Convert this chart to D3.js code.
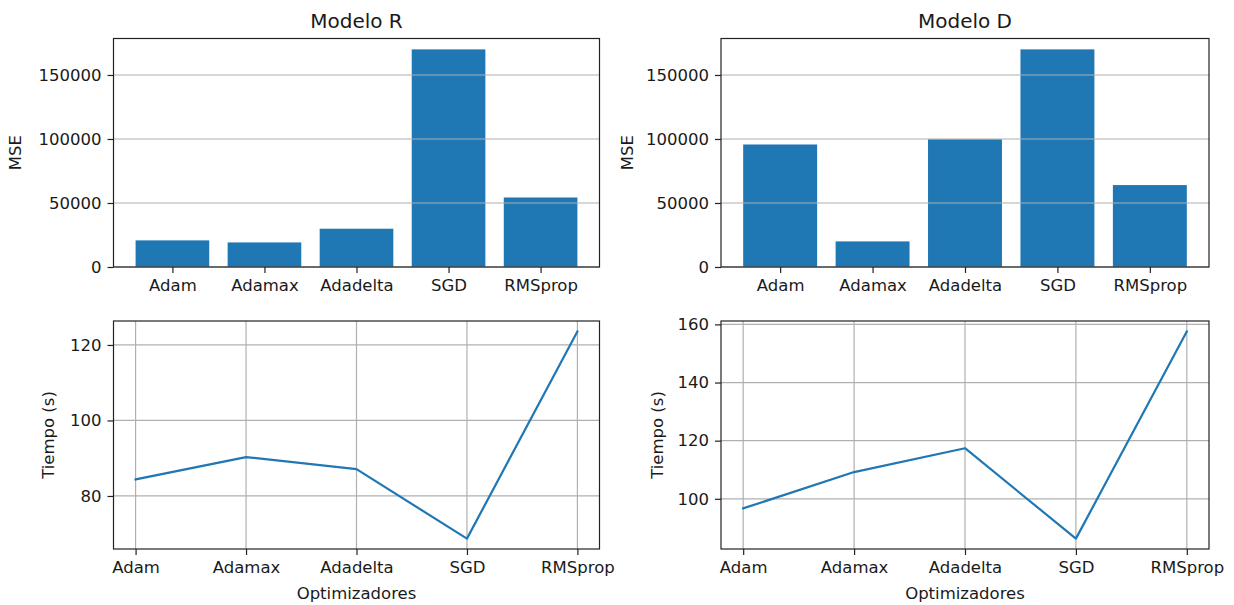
<!DOCTYPE html>
<html>
<head>
<meta charset="utf-8">
<script src="https://cdn.jsdelivr.net/npm/d3@7"></script>
<style>
  html, body { margin: 0; padding: 0; background: #ffffff; }
  svg text { font-family: "DejaVu Sans", sans-serif; fill: #1a1a1a; }
</style>
</head>
<body>
<svg id="chart" width="1234" height="605"></svg>
<script>
// Optimizer names shared by every panel
const optimizers = ["Adam", "Adamax", "Adadelta", "SGD", "RMSprop"];

// Mean squared error per optimizer
const mseModelR = [20800, 19200, 29900, 170000, 54300];
const mseModelD = [95700, 20000, 99800, 170000, 64000];

// Training time (seconds) per optimizer
const timeModelR = [84.4, 90.3, 87.1, 68.7, 123.6];
const timeModelD = [96.7, 109.2, 117.4, 86.3, 157.6];

// Tick values
const mseTicks = [0, 50000, 100000, 150000];
const timeTicksR = [80, 100, 120];
const timeTicksD = [100, 120, 140, 160];

const titles = ["Modelo R", "Modelo D"];

const blue = "#1f77b4";
const gridColor = "#b0b0b0";
const tickFont = "16.5px";
const labelFont = "16.5px";
const svg = d3.select("#chart");

const cols = [{ x0: 113.5, x1: 599.5 }, { x0: 721, x1: 1209 }];
const topRow = { y0: 38.5, y1: 267 };
const botRow = { y0: 321, y1: 549 };

function frame(g, w, h) {
  g.append("rect")
    .attr("x", 0).attr("y", 0).attr("width", w).attr("height", h)
    .attr("fill", "none").attr("stroke", "#222").attr("stroke-width", 1.2);
}

function styleAxis(sel) {
  sel.select(".domain").remove();
  sel.selectAll(".tick line").attr("stroke", "#222").attr("stroke-width", 1.2);
  sel.selectAll(".tick text").style("font-size", tickFont).attr("fill", "#1a1a1a");
}

// Bar panels (MSE)
[mseModelR, mseModelD].forEach((vals, i) => {
  const c = cols[i];
  const w = c.x1 - c.x0, h = topRow.y1 - topRow.y0;
  const g = svg.append("g").attr("transform", `translate(${c.x0},${topRow.y0})`);

  const maxV = d3.max(vals);
  const y = d3.scaleLinear().domain([0, maxV * 1.05]).range([h, 0]);
  const x = d3.scaleLinear().domain([-0.64, 4.64]).range([0, w]);
  const bw = x(0.8) - x(0);

  g.selectAll("rect.bar").data(vals).join("rect")
    .attr("class", "bar")
    .attr("x", (d, k) => x(k - 0.4))
    .attr("width", bw)
    .attr("y", d => y(d))
    .attr("height", d => y(0) - y(d))
    .attr("fill", blue);

  // horizontal grid drawn above the bars
  g.selectAll("line.grid").data(mseTicks).join("line")
    .attr("class", "grid")
    .attr("x1", 0).attr("x2", w)
    .attr("y1", d => y(d)).attr("y2", d => y(d))
    .attr("stroke", gridColor).attr("stroke-width", 1.2);

  const yAx = g.append("g")
    .call(d3.axisLeft(y).tickValues(mseTicks).tickFormat(d3.format("d")).tickSize(6).tickPadding(6));
  styleAxis(yAx);

  const xAx = g.append("g").attr("transform", `translate(0,${h})`)
    .call(d3.axisBottom(x).tickValues(d3.range(optimizers.length))
      .tickFormat(k => optimizers[k]).tickSize(6).tickPadding(6));
  styleAxis(xAx);

  frame(g, w, h);

  g.append("text")
    .attr("x", w / 2).attr("y", -11)
    .attr("text-anchor", "middle")
    .style("font-size", "20px")
    .text(titles[i]);

  g.append("text")
    .attr("transform", `translate(${i === 0 ? -93 : -88},${h / 2}) rotate(-90)`)
    .attr("text-anchor", "middle")
    .style("font-size", labelFont)
    .text("MSE");
});

// Line panels (training time)
[[timeModelR, timeTicksR], [timeModelD, timeTicksD]].forEach(([vals, ticks], i) => {
  const c = cols[i];
  const w = c.x1 - c.x0, h = botRow.y1 - botRow.y0;
  const g = svg.append("g").attr("transform", `translate(${c.x0},${botRow.y0})`);

  const [lo, hi] = d3.extent(vals);
  const pad = (hi - lo) * 0.05;
  const y = d3.scaleLinear().domain([lo - pad, hi + pad]).range([h, 0]);
  const x = d3.scaleLinear().domain([-0.2, 4.2]).range([0, w]);

  // grid in both directions
  g.selectAll("line.gy").data(ticks).join("line")
    .attr("class", "gy")
    .attr("x1", 0).attr("x2", w)
    .attr("y1", d => y(d)).attr("y2", d => y(d))
    .attr("stroke", gridColor).attr("stroke-width", 1.2);
  g.selectAll("line.gx").data(d3.range(optimizers.length)).join("line")
    .attr("class", "gx")
    .attr("y1", 0).attr("y2", h)
    .attr("x1", d => x(d)).attr("x2", d => x(d))
    .attr("stroke", gridColor).attr("stroke-width", 1.2);

  const line = d3.line().x((d, k) => x(k)).y(d => y(d));
  g.append("path")
    .datum(vals)
    .attr("d", line)
    .attr("fill", "none")
    .attr("stroke", blue)
    .attr("stroke-width", 2.2)
    .attr("stroke-linejoin", "round")
    .attr("stroke-linecap", "square");

  const yAx = g.append("g")
    .call(d3.axisLeft(y).tickValues(ticks).tickFormat(d3.format("d")).tickSize(6).tickPadding(6));
  styleAxis(yAx);

  const xAx = g.append("g").attr("transform", `translate(0,${h})`)
    .call(d3.axisBottom(x).tickValues(d3.range(optimizers.length))
      .tickFormat(k => optimizers[k]).tickSize(6).tickPadding(6));
  styleAxis(xAx);

  frame(g, w, h);

  g.append("text")
    .attr("transform", `translate(${i === 0 ? -60 : -58},${h / 2}) rotate(-90)`)
    .attr("text-anchor", "middle")
    .style("font-size", labelFont)
    .text("Tiempo (s)");

  g.append("text")
    .attr("x", w / 2).attr("y", h + 50)
    .attr("text-anchor", "middle")
    .style("font-size", labelFont)
    .text("Optimizadores");
});
</script>
</body>
</html>
